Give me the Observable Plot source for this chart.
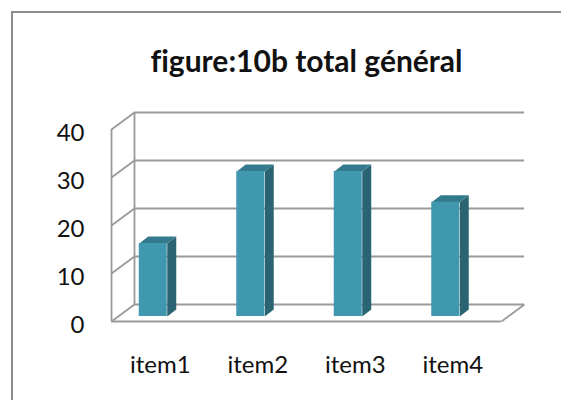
<!DOCTYPE html>
<html><head><meta charset="utf-8">
<script src="https://cdn.jsdelivr.net/npm/d3@7"></script>
<script src="https://cdn.jsdelivr.net/npm/@observablehq/plot@0.6"></script>
<style>
html,body{margin:0;padding:0;background:#fff;overflow:hidden;}
#wrap{position:relative;width:561px;height:403px;overflow:hidden;}
#wrap svg{display:block;font-variant-ligatures:none;}
</style></head><body><div id="wrap"></div>
<script>
const title = "figure:10b total général";
const categories = ["item1", "item2", "item3", "item4"];
const values = [15.2, 30.2, 30.2, 23.8];
const yTicks = [0, 10, 20, 30, 40];

const W = 561, H = 403, mL = 111, mR = 60, mT = 129, mB = 82;
const xDomain = [0, categories.length], yDomain = [0, 40];
const pxX = (W - mL - mR) / (xDomain[1] - xDomain[0]);
const pxY = (H - mT - mB) / (yDomain[1] - yDomain[0]);
const wall = {dx: 23, dy: 17};
const barDepth = {dx: 9, dy: 7};
const barShift = {dx: -7, dy: -5};
const barW = 28;
const wU = {x: wall.dx / pxX, y: wall.dy / pxY};
const bU = {x: barDepth.dx / pxX, y: barDepth.dy / pxY};
const hw = barW / 2 / pxX;

const bars = categories.map((c, i) => ({c, i, v: values[i], x0: i + 0.5 - hw, x1: i + 0.5 + hw}));
const sideFaces = bars.flatMap(b => [
  {c: b.c, x: b.x1, y: 0}, {c: b.c, x: b.x1 + bU.x, y: bU.y},
  {c: b.c, x: b.x1 + bU.x, y: b.v + bU.y}, {c: b.c, x: b.x1, y: b.v}]);
const topFaces = bars.flatMap(b => [
  {c: b.c, x: b.x0, y: b.v}, {c: b.c, x: b.x1, y: b.v},
  {c: b.c, x: b.x1 + bU.x, y: b.v + bU.y}, {c: b.c, x: b.x0 + bU.x, y: b.v + bU.y}]);

const grid = {stroke: "#9a9a9a", strokeWidth: 1.8};
const x0 = xDomain[0], x1 = xDomain[1];

const chart = Plot.plot({
  width: W, height: H,
  marginLeft: mL, marginRight: mR, marginTop: mT, marginBottom: mB,
  x: {domain: xDomain, axis: null},
  y: {domain: yDomain, axis: null},
  style: {fontFamily: "Lato, 'Open Sans', sans-serif", background: "transparent"},
  marks: [
    Plot.ruleY(yTicks, {y: d => d + wU.y, x1: x0 + wU.x, x2: x1 + wU.x, ...grid}),
    Plot.ruleX([x0 + wU.x], {y1: yDomain[0] + wU.y, y2: yDomain[1] + wU.y, ...grid}),
    Plot.link(yTicks, {x1: x0, y1: d => d, x2: x0 + wU.x, y2: d => d + wU.y, ...grid}),
    Plot.ruleX([x0], {y1: yDomain[0], y2: yDomain[1], ...grid}),
    Plot.ruleY([yDomain[0]], {x1: x0, x2: x1, ...grid}),
    Plot.link([yDomain[0]], {x1: x1, y1: d => d, x2: x1 + wU.x, y2: d => d + wU.y, ...grid}),
    Plot.line(sideFaces, {x: "x", y: "y", z: "c", fill: "#2a6473", stroke: "none", dx: barShift.dx, dy: barShift.dy}),
    Plot.line(topFaces, {x: "x", y: "y", z: "c", fill: "#347a8d", stroke: "none", dx: barShift.dx, dy: barShift.dy}),
    Plot.rect(bars, {x1: "x0", x2: "x1", y1: 0, y2: "v", fill: "#4098af", dx: barShift.dx, dy: barShift.dy}),
    Plot.text(yTicks, {x: x0, y: d => d, text: d => String(d), textAnchor: "end", dx: -27, dy: 4, fontSize: 24, fill: "#111"}),
    Plot.text(bars, {x: d => d.i + 0.5, y: yDomain[0], text: "c", dy: 44, fontSize: 24, fill: "#111"}),
    Plot.text([title], {frameAnchor: "top", text: d => d, lineAnchor: "bottom", dy: -58, fontSize: 30, fontWeight: "bold", fill: "#111"})
  ]
});
// chart-area outer border (top and left edges, as in the reference)
d3.select(chart).append("path")
  .attr("d", `M12,${H - 3}V12H${W}`)
  .attr("fill", "none").attr("stroke", "#8c8c8c").attr("stroke-width", 2);
document.getElementById("wrap").appendChild(chart);
</script>
</body></html>
